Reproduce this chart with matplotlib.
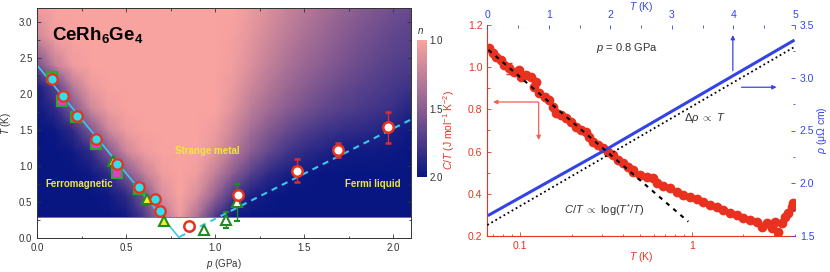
import numpy as np
import matplotlib
matplotlib.use("Agg")
import matplotlib.pyplot as plt
from matplotlib.colors import LinearSegmentedColormap
from matplotlib.ticker import MultipleLocator, NullFormatter, LogLocator

plt.rcParams['font.family'] = ['Liberation Sans', 'DejaVu Sans']
plt.rcParams['mathtext.fontset'] = 'custom'
plt.rcParams['mathtext.rm'] = 'Liberation Sans'
plt.rcParams['mathtext.it'] = 'Liberation Sans:italic'
plt.rcParams['mathtext.bf'] = 'Liberation Sans:bold'

# --- phase diagram: exponent n map ---
n_p = np.round(np.arange(0, 2.11, 0.1), 2)
n_T = [0.3, 0.6, 0.9, 1.2, 1.5, 1.8, 2.1, 2.4, 2.8, 3.2]
n_map = [
    [2, 2, 2, 2, 2, 1.97, 1.75, 1.35, 1.05, 1.35, 1.75, 1.97, 2, 2, 2, 2, 2, 2, 2, 2, 2, 2],
    [2, 2, 2, 2, 1.97, 1.85, 1.55, 1.15, 1.0, 1.15, 1.45, 1.75, 1.92, 1.98, 2, 2, 2, 2, 2, 2, 2, 2],
    [2, 2, 2, 1.97, 1.85, 1.55, 1.25, 1.05, 1.0, 1.05, 1.25, 1.5, 1.7, 1.85, 1.93, 1.97, 2, 2, 2, 2, 2, 2],
    [2, 2, 1.97, 1.85, 1.55, 1.2, 1.05, 1.0, 1.0, 1.0, 1.1, 1.3, 1.5, 1.65, 1.77, 1.85, 1.9, 1.95, 1.97, 1.97, 1.98, 2],
    [2, 1.98, 1.85, 1.55, 1.2, 1.05, 1.0, 1.0, 1.0, 1.0, 1.05, 1.2, 1.38, 1.52, 1.63, 1.72, 1.78, 1.82, 1.85, 1.88, 1.92, 1.98],
    [1.98, 1.85, 1.55, 1.2, 1.05, 1.0, 1.0, 1.0, 1.0, 1.0, 1.0, 1.12, 1.27, 1.4, 1.5, 1.58, 1.65, 1.7, 1.74, 1.78, 1.82, 1.9],
    [1.95, 1.7, 1.3, 1.07, 1.0, 1.0, 1.0, 1.0, 1.0, 1.0, 1.0, 1.07, 1.2, 1.32, 1.42, 1.5, 1.57, 1.63, 1.68, 1.72, 1.76, 1.8],
    [1.6, 1.25, 1.05, 1.0, 1.0, 1.0, 1.0, 1.0, 1.0, 1.0, 1.0, 1.04, 1.14, 1.25, 1.35, 1.43, 1.5, 1.56, 1.62, 1.67, 1.71, 1.74],
    [1.2, 1.03, 1.0, 1.0, 1.0, 1.0, 1.0, 1.0, 1.0, 1.0, 1.0, 1.02, 1.1, 1.19, 1.28, 1.36, 1.43, 1.5, 1.56, 1.61, 1.66, 1.69],
    [1.05, 1.0, 1.0, 1.0, 1.0, 1.0, 1.0, 1.0, 1.0, 1.0, 1.0, 1.0, 1.06, 1.14, 1.22, 1.3, 1.37, 1.44, 1.5, 1.55, 1.6, 1.64],
]

# transition points
circ_p = [0.081, 0.142, 0.221, 0.332, 0.449, 0.573, 0.659, 0.692]
circ_T = [2.21, 1.98, 1.70, 1.38, 1.03, 0.71, 0.55, 0.38]
sq_p = [0.081, 0.138, 0.220, 0.330, 0.449, 0.570]
sq_T = [2.24, 1.91, 1.68, 1.31, 0.91, 0.69]
tri_p = [0.423, 0.614, 0.713]
tri_T = [1.07, 0.54, 0.24]
otri_p = [0.938, 1.06, 1.12]
otri_T = [0.115, 0.25, 0.50]
otri_err = [0.0, 0.11, 0.26]
ocirc_p = [0.85, 1.127, 1.46, 1.69, 1.97]
ocirc_T = [0.17, 0.60, 0.94, 1.23, 1.54]
ocirc_err = [0.0, 0.0, 0.16, 0.10, 0.22]
fm_line_p = [0.0, 0.8]
fm_line_T = [2.4, 0.0]
fl_line_p = [0.8, 2.1]
fl_line_T = [0.02, 1.65]

# --- C/T and resistivity at 0.8 GPa ---
ct_T = [0.0662, 0.0693, 0.0724, 0.0775, 0.0811, 0.0867, 0.0927, 0.099, 0.101, 0.108,
        0.116, 0.124, 0.121, 0.129, 0.139, 0.148, 0.155, 0.162, 0.173, 0.185,
        0.198, 0.212, 0.227, 0.242, 0.253, 0.265, 0.284, 0.303, 0.324, 0.347,
        0.371, 0.396, 0.424, 0.453, 0.457, 0.500, 0.547, 0.598, 0.625, 0.684,
        0.748, 0.818, 0.894, 0.977, 1.07, 1.17, 1.28, 1.40, 1.53, 1.67,
        1.83, 2.00, 2.19, 2.39, 2.56, 2.74, 2.93, 3.06, 3.20, 3.34,
        3.49, 3.65, 3.82, 3.91]
ct_val = [1.090, 1.066, 1.050, 1.034, 1.010, 0.995, 0.979, 0.987, 0.955, 0.963,
          0.955, 0.931, 0.908, 0.876, 0.860, 0.845, 0.813, 0.781, 0.773, 0.758,
          0.739, 0.718, 0.702, 0.694, 0.671, 0.647, 0.631, 0.616, 0.600, 0.584,
          0.560, 0.545, 0.528, 0.513, 0.505, 0.489, 0.481, 0.473, 0.450, 0.437,
          0.426, 0.410, 0.394, 0.383, 0.374, 0.363, 0.347, 0.336, 0.323, 0.310,
          0.300, 0.284, 0.276, 0.268, 0.244, 0.260, 0.236, 0.268, 0.220, 0.260,
          0.292, 0.308, 0.339, 0.355]
ct_err_T = [0.0867]
ct_err_val = [0.995]
ct_err = [0.025]
log_fit_T = [0.0655, 0.956]
log_fit_val = [1.082, 0.268]
rho_T = [0.03, 1.93, 4.97]
rho_val = [1.70, 2.32, 3.35]
lin_fit_T = [0.0, 5.0]
lin_fit_val = [1.604, 3.295]

RED = '#e8321f'
BLUE = '#3344e6'
GREY = '#333333'

fig = plt.figure(figsize=(8.3, 2.72), dpi=100)
W, H = 830, 272

# ================= left panel =================
ax = fig.add_axes([37.3 / W, 33.7 / H, 373.7 / W, 230.4 / H])
cmap = LinearSegmentedColormap.from_list('n', ['#f9a3a0', '#8b5d91', '#081682'])
P, TT = np.meshgrid(n_p, n_T)
mesh = ax.pcolormesh(P, TT, np.array(n_map), cmap=cmap, vmin=1.0, vmax=2.0,
                     shading='gouraud', zorder=0, rasterized=True)
ax.axhline(0.3, color='#6a5a9a', lw=0.6, zorder=1)

ax.plot(fm_line_p, fm_line_T, color='#3cc8e8', lw=1.2, zorder=2)
ax.plot(fl_line_p, fl_line_T, color='#3cc8e8', lw=1.5, ls=(0, (3, 2.5)), zorder=2)

ax.plot(sq_p, sq_T, 's', ms=7, mfc='#e040c8', mec='#2aa82a', mew=1.5, zorder=3)
ax.plot(tri_p, tri_T, '^', ms=7.5, mfc='#f2ee30', mec='#228b22', mew=1.5, zorder=3)
ax.errorbar(otri_p, otri_T, yerr=otri_err, fmt='^', ms=7.5, mfc='white', mec='#228b22',
            mew=1.5, ecolor='#228b22', elinewidth=1, capsize=2.5, zorder=3)
ax.plot(circ_p, circ_T, 'o', ms=7.5, mfc='#30e0ec', mec=RED, mew=1.6, zorder=4)
ax.errorbar(ocirc_p, ocirc_T, yerr=ocirc_err, fmt='o', ms=7.5, mfc='white', mec=RED,
            mew=1.8, ecolor='#d83030', elinewidth=1, capsize=2.5, zorder=4)

ax.text(0.083, 2.83, r'$\mathbf{CeRh_6Ge_4}$', fontsize=13.5, va='center', ha='left', zorder=5)
yel = '#f0e63c'
ax.text(0.953, 1.21, 'Strange metal', color=yel, fontsize=7, fontweight='bold', ha='center', va='center')
ax.text(0.234, 0.754, 'Ferromagnetic', color=yel, fontsize=7, fontweight='bold', ha='center', va='center')
ax.text(1.885, 0.754, 'Fermi liquid', color=yel, fontsize=7, fontweight='bold', ha='center', va='center')

ax.set_xlim(0, 2.1)
ax.set_ylim(0, 3.2)
ax.xaxis.set_major_locator(MultipleLocator(0.5))
ax.xaxis.set_minor_locator(MultipleLocator(0.25))
ax.yaxis.set_major_locator(MultipleLocator(0.5))
ax.yaxis.set_minor_locator(MultipleLocator(0.25))
ax.tick_params(which='both', direction='in', top=True, right=True, colors=GREY,
               labelsize=7, width=0.6)
ax.tick_params(which='major', length=3)
ax.tick_params(which='minor', length=1.8)
for s in ax.spines.values():
    s.set_color(GREY)
    s.set_linewidth(0.7)
ax.set_xlabel(r'$p$ (GPa)', fontsize=7, color=GREY)
ax.set_ylabel(r'$T$ (K)', fontsize=7, color=GREY)
ax.xaxis.set_label_coords(0.5, -0.083)
ax.yaxis.set_label_coords(-0.066, 0.5)

cax = fig.add_axes([417.3 / W, (272 - 177.3) / H, 9.4 / W, 137.3 / H])
cb = fig.colorbar(mesh, cax=cax)
cb.outline.set_linewidth(0)
cax.invert_yaxis()
cb.set_ticks([1.0, 1.5, 2.0])
cb.set_ticklabels(['1.0', '1.5', '2.0'])
cax.tick_params(length=0, pad=2, labelsize=7, colors=GREY)
fig.text(420 / W, 1 - 31 / H, r'$n$', fontsize=7, color=GREY, ha='center', va='center')

# ================= right panel =================
rect = [487.3 / W, 36 / H, 307.7 / W, 211 / H]
ax2 = fig.add_axes(rect)
ax2.set_xscale('log')
ax2.plot(ct_T, ct_val, 'o', ms=6, color=RED, mec=RED, zorder=2)
ax2.errorbar(ct_err_T, ct_err_val, yerr=ct_err, fmt='none', ecolor=RED, elinewidth=1,
             capsize=2, zorder=2)
ax2.set_xlim(0.0645, 4.0)
ax2.set_ylim(0.2, 1.2)
ax2.set_xticks([0.1, 1])
ax2.set_xticklabels(['0.1', '1'])
ax2.xaxis.set_minor_locator(LogLocator(base=10, subs=np.arange(2, 10)))
ax2.xaxis.set_minor_formatter(NullFormatter())
ax2.yaxis.set_major_locator(MultipleLocator(0.2))
ax2.yaxis.set_minor_locator(MultipleLocator(0.1))
ax2.yaxis.set_major_formatter(plt.FormatStrFormatter('%.1f'))
ax2.tick_params(which='both', direction='in', colors=RED, labelsize=7.5, width=0.6)
ax2.tick_params(which='major', length=3)
ax2.tick_params(which='minor', length=1.8)
ax2.spines['top'].set_visible(False)
ax2.spines['right'].set_visible(False)
ax2.spines['left'].set_color(RED)
ax2.spines['bottom'].set_color(RED)
ax2.set_xlabel(r'$T$ (K)', fontsize=7.5, color=RED)
ax2.set_ylabel(r'$C/T$ (J mol$^{-1}$ K$^{-2}$)', fontsize=7.5, color=RED)
ax2.xaxis.set_label_coords(0.5, -0.066)
ax2.yaxis.set_label_coords(-0.098, 0.5)

axr = fig.add_axes(rect, frameon=False)
axr.patch.set_visible(False)
axr.plot(lin_fit_T, lin_fit_val, color='black', lw=1.3, ls=(0, (1, 1.6)), zorder=2)
axr.plot(rho_T, rho_val, color=BLUE, lw=2.2, zorder=3)
axr.set_xlim(0, 5)
axr.set_ylim(1.5, 3.5)
axr.xaxis.tick_top()
axr.xaxis.set_label_position('top')
axr.yaxis.tick_right()
axr.yaxis.set_label_position('right')
axr.xaxis.set_major_locator(MultipleLocator(1))
axr.xaxis.set_minor_locator(MultipleLocator(0.5))
axr.yaxis.set_major_locator(MultipleLocator(0.5))
axr.yaxis.set_minor_locator(MultipleLocator(0.25))
axr.yaxis.set_major_formatter(plt.FormatStrFormatter('%.1f'))
axr.tick_params(which='both', direction='in', colors=BLUE, labelsize=7.5, width=0.6)
axr.tick_params(which='major', length=3)
axr.tick_params(which='minor', length=1.8)
for side in ['top', 'right']:
    axr.spines[side].set_visible(True)
    axr.spines[side].set_color(BLUE)
for side in ['left', 'bottom']:
    axr.spines[side].set_visible(False)
axr.set_xlabel(r'$T$ (K)', fontsize=7.5, color=BLUE)
axr.set_ylabel(r'$\rho$ (μΩ cm)', fontsize=7.5, color=BLUE)
axr.xaxis.set_label_coords(0.5, 1.07)
axr.yaxis.set_label_coords(1.064, 0.5)

# dashed log fit on top of the C/T data
axl = fig.add_axes(rect, frameon=False)
axl.set_xscale('log')
axl.plot(log_fit_T, log_fit_val, color='black', lw=1.5, ls=(0, (2, 2.5)))
axl.set_xlim(0.0645, 4.0)
axl.set_ylim(0.2, 1.2)
axl.set_xticks([])
axl.set_yticks([])
axl.minorticks_off()

# arrows
arr_r = dict(arrowstyle='-|>', color='#f06050', lw=0.9, mutation_scale=6, shrinkA=0, shrinkB=0)
axl.annotate('', xy=(0.0697, 0.835), xytext=(0.1273, 0.835), arrowprops=arr_r)
axl.annotate('', xy=(0.1285, 0.655), xytext=(0.1285, 0.835), arrowprops=arr_r)
arr_b = dict(arrowstyle='-|>', color=BLUE, lw=0.9, mutation_scale=6, shrinkA=0, shrinkB=0)
axr.annotate('', xy=(3.99, 3.405), xytext=(3.99, 3.067), arrowprops=arr_b)
axr.annotate('', xy=(4.70, 2.91), xytext=(4.13, 2.91), arrowprops=arr_b)

axl.text(0.454, 0.891, r'$p$ = 0.8 GPa', transform=axl.transAxes, fontsize=8,
         color=GREY, ha='center', va='center')
axl.text(0.707, 0.559, r'$\Delta\rho\ \propto\ T$', transform=axl.transAxes, fontsize=8,
         color=GREY, ha='center', va='center')
axl.text(0.382, 0.123, r'$C/T\ \propto\ $log$(T^{*}/T)$', transform=axl.transAxes, fontsize=8,
         color=GREY, ha='center', va='center')

fig.savefig('out.png', dpi=100)
